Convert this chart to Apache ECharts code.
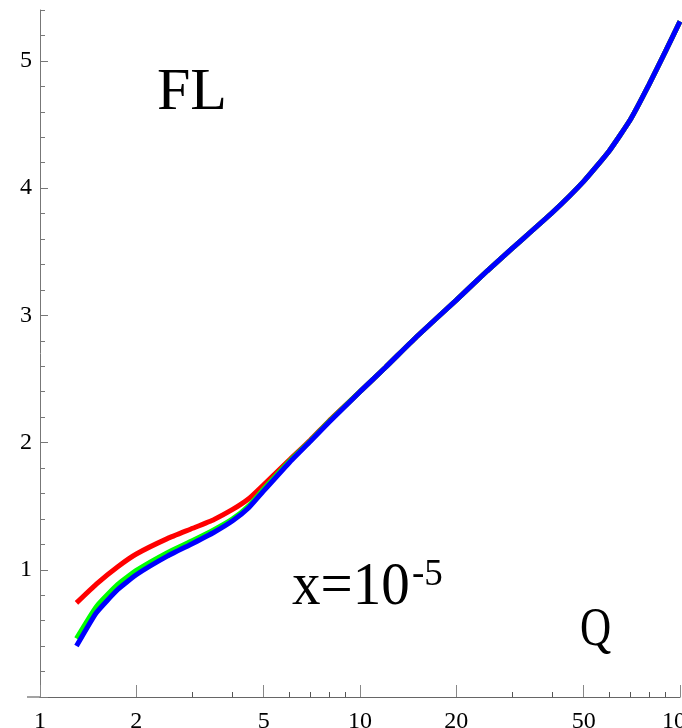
<!DOCTYPE html>
<html>
<head>
<meta charset="utf-8">
<script src="https://cdn.jsdelivr.net/npm/echarts@6/dist/echarts.min.js"></script>
<style>
  html, body { margin: 0; padding: 0; background: #fff; }
  #chart { width: 682px; height: 728px; }
</style>
</head>
<body>
<div id="chart"></div>
<script>
// Q values (log axis) and the three F_L curves
const qValues = [1.3, 1.5, 1.75, 2, 2.5, 3, 3.5, 4, 4.5, 5, 6, 7, 8, 10, 12, 15, 20, 25, 30, 40, 50, 60, 70, 80, 90, 100];
const flRed   = [0.74, 0.888, 1.024, 1.124, 1.245, 1.326, 1.396, 1.474, 1.56, 1.668, 1.86, 2.02, 2.17, 2.40, 2.59, 2.83, 3.12, 3.35, 3.53, 3.81, 4.053, 4.29, 4.539, 4.813, 5.073, 5.31];
const flGreen = [0.46, 0.71, 0.885, 0.995, 1.135, 1.23, 1.315, 1.40, 1.505, 1.635, 1.85, 2.015, 2.165, 2.40, 2.59, 2.83, 3.12, 3.35, 3.53, 3.81, 4.053, 4.29, 4.539, 4.813, 5.073, 5.31];
const flBlue  = [0.40, 0.662, 0.845, 0.961, 1.107, 1.207, 1.295, 1.385, 1.49, 1.62, 1.84, 2.01, 2.16, 2.40, 2.59, 2.83, 3.12, 3.35, 3.53, 3.81, 4.053, 4.29, 4.539, 4.813, 5.073, 5.31];

// axis ticks and labels
const qLabels     = [1, 2, 5, 10, 20, 50, 100];
const qMajorTicks = [1, 2, 5, 10, 20, 50, 100];
const qMinorTicks = [3, 4, 6, 7, 8, 9, 30, 40, 60, 70, 80, 90];
const flLabels     = [1, 2, 3, 4, 5];
const flMajorTicks = [0, 1, 2, 3, 4, 5];

const SERIF = '"Liberation Serif", "Times New Roman", serif';
const AXIS_GRAY = '#777';
const lg = v => Math.log10(v);

function curve(name, color, values) {
  return {
    name, type: 'line', showSymbol: false, smooth: 0.15,
    lineStyle: { color, width: 5 }, itemStyle: { color },
    data: qValues.map((q, i) => [lg(q), values[i]])
  };
}

const chart = echarts.init(document.getElementById('chart'), null, { renderer: 'canvas' });
chart.setOption({
  animation: false,
  backgroundColor: '#fff',
  grid: { left: 40, right: 2, top: 10, bottom: 31, containLabel: false, outerBoundsMode: 'none' },
  xAxis: [
    {
      type: 'value', min: 0, max: 2,
      axisLine: { show: true, lineStyle: { color: '#666', width: 1.2 } },
      axisTick: { show: true, inside: true, length: 12, customValues: qMajorTicks.map(lg), lineStyle: { color: '#888' } },
      axisLabel: {
        show: true, customValues: qLabels.map(lg), margin: 13,
        formatter: v => String(Math.round(Math.pow(10, v))),
        color: '#000', fontFamily: SERIF, fontSize: 24,
        hideOverlap: false
      },
      splitLine: { show: false }
    },
    {
      type: 'value', min: 0, max: 2, position: 'bottom', offset: 0,
      axisLine: { show: false },
      axisTick: { show: true, inside: true, length: 5, customValues: qMinorTicks.map(lg), lineStyle: { color: '#555' } },
      axisLabel: { show: false },
      splitLine: { show: false }
    }
  ],
  yAxis: [
    {
      type: 'value', min: 0, max: 5.4,
      axisLine: { show: true, lineStyle: { color: AXIS_GRAY, width: 1 } },
      axisTick: { show: true, inside: true, length: 8, customValues: flMajorTicks, lineStyle: { color: AXIS_GRAY } },
      axisLabel: {
        show: true, customValues: flLabels, margin: 8,
        color: '#000', fontFamily: SERIF, fontSize: 24
      },
      splitLine: { show: false }
    },
    {
      type: 'value', min: 0, max: 5.4, interval: 0.2, position: 'left', offset: 0,
      axisLine: { show: false },
      axisTick: { show: true, inside: true, length: 5, lineStyle: { color: AXIS_GRAY } },
      axisLabel: { show: false },
      splitLine: { show: false }
    }
  ],
  series: [
    curve('red', '#ff0000', flRed),
    curve('green', '#00ff00', flGreen),
    curve('blue', '#0000ff', flBlue)
  ],
  graphic: [
    { type: 'line', shape: { x1: 27, y1: 697, x2: 40, y2: 697 }, style: { stroke: '#666', lineWidth: 1.2 } },
    { type: 'text', x: 157, y: 93, style: { text: 'FL', font: '60px ' + SERIF, fill: '#000', align: 'left', verticalAlign: 'middle' } },
    { type: 'text', x: 292, y: 588, scaleX: 0.92, style: { text: 'x=10', font: '62px ' + SERIF, fill: '#000', align: 'left', verticalAlign: 'middle' } },
    { type: 'text', x: 412, y: 575, style: { text: '-5', font: '37px ' + SERIF, fill: '#000', align: 'left', verticalAlign: 'middle' } },
    { type: 'text', x: 580, y: 631, scaleX: 0.8, style: { text: 'Q', font: '54px ' + SERIF, fill: '#000', align: 'left', verticalAlign: 'middle' } }
  ]
});
</script>
</body>
</html>
